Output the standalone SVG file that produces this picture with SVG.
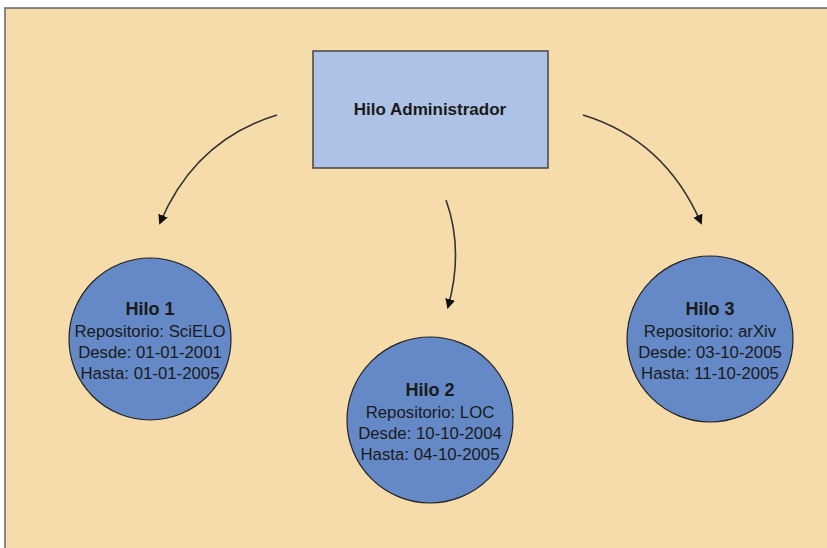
<svg xmlns="http://www.w3.org/2000/svg" width="827" height="548" viewBox="0 0 827 548">
<style>
.t{font-family:"Liberation Sans",Arial,sans-serif;fill:#1a1a1a;text-anchor:middle}
.b{font-weight:bold;font-size:18px}
.n{font-size:16.8px}
.c{fill:#6489C6;stroke:#222;stroke-width:1.2}
.e{fill:none;stroke:#333;stroke-width:1.6}
</style>
<defs>
<marker id="ah" markerWidth="10" markerHeight="10" refX="8" refY="5" orient="auto" markerUnits="userSpaceOnUse">
<path d="M0,0 L10,5 L0,10 z" fill="#111"/>
</marker>
</defs>
<rect x="0" y="0" width="827" height="548" fill="#ffffff"/>
<rect x="5" y="8" width="830" height="550" fill="#F7DCAB" stroke="#666" stroke-width="1.5"/>
<g id="admin">
<rect x="313" y="51" width="235" height="117" fill="#ADC2E4" stroke="#444" stroke-width="1.5"/>
<text class="t b" x="430" y="115" style="font-size:17px">Hilo Administrador</text>
</g>
<g id="hilo1">
<circle class="c" cx="150" cy="339" r="81"/>
<text class="t b" x="150" y="315">Hilo 1</text>
<text class="t n" x="150" y="337">Repositorio: SciELO</text>
<text class="t n" x="150" y="358">Desde: 01-01-2001</text>
<text class="t n" x="150" y="379">Hasta: 01-01-2005</text>
</g>
<g id="hilo2">
<circle class="c" cx="430" cy="420" r="83"/>
<text class="t b" x="430" y="396">Hilo 2</text>
<text class="t n" x="430" y="418">Repositorio: LOC</text>
<text class="t n" x="430" y="439">Desde: 10-10-2004</text>
<text class="t n" x="430" y="460">Hasta: 04-10-2005</text>
</g>
<g id="hilo3">
<circle class="c" cx="710" cy="339" r="83"/>
<text class="t b" x="710" y="315">Hilo 3</text>
<text class="t n" x="710" y="337">Repositorio: arXiv</text>
<text class="t n" x="710" y="358">Desde: 03-10-2005</text>
<text class="t n" x="710" y="379">Hasta: 11-10-2005</text>
</g>
<g id="connectors">
<path class="e" d="M277,115 Q195,140 160,223" marker-end="url(#ah)"/>
<path class="e" d="M446,200 Q464,250 448,307" marker-end="url(#ah)"/>
<path class="e" d="M583,115 Q665,140 701,223" marker-end="url(#ah)"/>
</g>
</svg>
